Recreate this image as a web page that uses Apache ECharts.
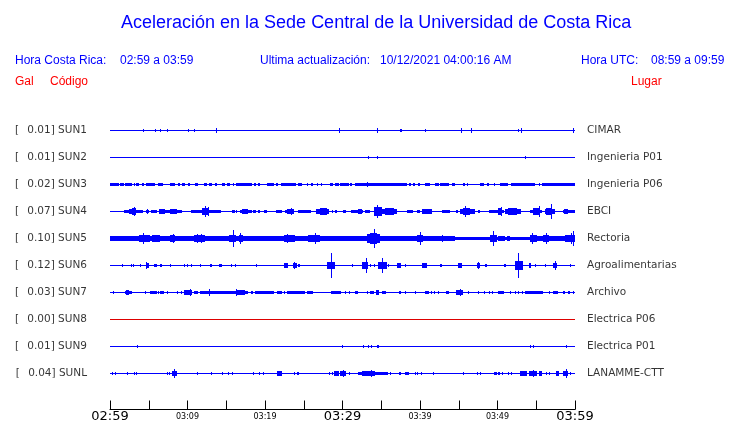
<!DOCTYPE html>
<html><head><meta charset="utf-8">
<script src="https://cdn.jsdelivr.net/npm/echarts@6/dist/echarts.min.js"></script>
<style>html,body{margin:0;padding:0;background:#fff}#c{width:740px;height:423px}</style>
</head><body><div id="c"></div>
<script>
// ---- data ----
const mainTitle = 'Aceleración en la Sede Central de la Universidad de Costa Rica';
const crLabel = 'Hora Costa Rica:', crRange = '02:59 a 03:59';
const updLabel = 'Ultima actualización:', updValue = '10/12/2021 04:00:16 AM';
const utcLabel = 'Hora UTC:', utcRange = '08:59 a 09:59';
const colHeads = ['Gal', 'Código', 'Lugar'];

const stations = ['SUN1','SUN2','SUN3','SUN4','SUN5','SUN6','SUN7','SUN8','SUN9','SUNL'];
const places = ['CIMAR','Ingenieria P01','Ingenieria P06','EBCI','Rectoria','Agroalimentarias','Archivo','Electrica P06','Electrica P01','LANAMME-CTT'];
const peaks = ['0.01','0.01','0.02','0.07','0.10','0.12','0.03','0.00','0.01','0.04'];
const lineColors = ['#0000ff','#0000ff','#0000ff','#0000ff','#0000ff','#0000ff','#0000ff','#dd0000','#0000ff','#0000ff'];
const tickLabels = ['02:59','03:09','03:19','03:29','03:39','03:49','03:59']; // every 10 min
// bursts: [start minute, end minute, half amplitude (gal)]
const sun1 = [[4.2,4.2,0.012],[5.8,5.8,0.012],[6.4,6.4,0.012],[7.4,7.4,0.012],[10.0,10.0,0.012],[10.9,10.9,0.012],[13.7,13.7,0.014],[29.5,29.5,0.014],[34.5,34.5,0.014],[37.4,37.4,0.012],[37.6,37.6,0.012],[40.7,40.7,0.012],[45.3,45.3,0.014],[46.6,46.6,0.014],[52.7,52.7,0.012],[53.0,53.0,0.014],[59.8,59.8,0.014]];
const sun2 = [[33.3,33.3,0.012],[34.5,34.5,0.012],[53.6,53.6,0.012]];
const sun3 = [[0.0,1.1,0.013],[1.3,1.8,0.013],[1.9,2.8,0.013],[3.1,3.2,0.013],[3.4,3.8,0.013],[4.1,4.4,0.013],[4.6,5.8,0.013],[6.2,6.9,0.013],[7.7,8.4,0.013],[8.8,9.0,0.013],[9.3,9.7,0.013],[10.1,10.3,0.013],[11.0,11.3,0.013],[12.1,12.5,0.013],[12.8,13.1,0.013],[13.5,13.8,0.013],[14.4,14.8,0.013],[15.1,15.5,0.013],[15.9,16.0,0.013],[16.3,18.3,0.013],[18.6,18.8,0.013],[19.1,19.4,0.013],[20.2,21.1,0.013],[21.4,21.7,0.013],[22.1,24.0,0.013],[24.2,24.8,0.013],[25.4,25.6,0.013],[25.9,26.2,0.013],[26.7,26.9,0.013],[27.2,27.4,0.013],[28.4,28.8,0.013],[29.0,29.5,0.013],[29.7,30.8,0.013],[31.0,31.2,0.013],[31.6,38.3,0.013],[33.2,33.2,0.02],[38.6,38.8,0.013],[39.1,39.4,0.013],[39.8,40.0,0.013],[40.6,41.3,0.013],[41.9,42.4,0.013],[42.6,43.7,0.013],[44.1,44.5,0.013],[45.6,45.8,0.013],[46.0,46.2,0.013],[47.7,48.2,0.013],[48.6,48.9,0.013],[49.5,49.7,0.013],[50.3,51.4,0.013],[51.8,54.8,0.013],[55.3,55.4,0.013],[55.8,60.0,0.013]];
const sun4 = [[1.8,2.5,0.012],[2.5,3.4,0.019],[2.8,3.3,0.031],[3.1,3.1,0.04],[3.4,4.2,0.012],[4.6,5.0,0.012],[4.8,4.8,0.019],[5.3,6.0,0.009],[6.3,7.1,0.019],[7.1,9.3,0.012],[7.7,8.6,0.016],[10.5,12.1,0.012],[11.9,12.8,0.025],[12.3,12.3,0.049],[12.6,12.6,0.037],[12.8,14.3,0.012],[15.7,16.1,0.009],[16.2,16.4,0.009],[16.8,18.3,0.012],[17.0,17.8,0.019],[18.5,18.8,0.006],[19.1,19.4,0.006],[19.9,20.3,0.009],[21.4,22.2,0.012],[22.6,23.7,0.012],[22.9,23.7,0.021],[23.3,23.3,0.031],[24.3,25.9,0.012],[26.6,28.2,0.019],[27.1,28.0,0.028],[28.6,28.8,0.009],[29.0,29.3,0.009],[30.1,30.4,0.009],[31.1,32.7,0.012],[32.0,32.5,0.019],[32.9,33.5,0.009],[34.1,37.0,0.019],[34.1,35.1,0.037],[34.4,34.4,0.056],[35.5,36.6,0.031],[38.3,39.1,0.009],[39.6,40.0,0.009],[40.2,41.5,0.016],[40.6,41.2,0.021],[42.9,43.9,0.012],[44.7,44.9,0.006],[45.2,47.1,0.016],[45.5,46.5,0.031],[45.8,45.8,0.049],[47.5,47.7,0.006],[48.9,50.8,0.012],[50.1,50.5,0.025],[50.4,50.4,0.037],[51.0,53.0,0.016],[51.4,52.5,0.025],[54.2,55.7,0.012],[54.6,55.5,0.028],[55.3,55.3,0.044],[56.1,57.4,0.016],[56.3,57.0,0.031],[56.9,56.9,0.068],[58.4,60.0,0.012],[58.6,59.1,0.021]];
const sun5 = [[0,44.5,0.016],[44.5,55.1,0.012],[55.1,60,0.016],[3.7,5.2,0.031],[4.3,4.3,0.044],[5.4,6.5,0.025],[7.7,8.4,0.025],[8.1,8.1,0.037],[9.0,9.9,0.019],[10.8,12.3,0.025],[11.2,11.2,0.037],[11.8,11.8,0.037],[13.1,13.8,0.019],[15.3,16.3,0.031],[15.9,15.9,0.074],[16.6,17.1,0.031],[16.8,16.8,0.044],[17.4,17.9,0.021],[20.4,20.4,0.019],[21.1,21.7,0.019],[22.5,23.9,0.025],[22.8,22.8,0.037],[24.9,25.2,0.019],[25.6,27.1,0.025],[26.5,26.5,0.044],[27.3,28.2,0.016],[31.2,32.0,0.016],[32.3,32.9,0.019],[33.1,34.8,0.037],[33.5,34.4,0.049],[34.0,34.0,0.08],[35.1,35.9,0.016],[36.1,37.0,0.021],[38.3,38.9,0.021],[39.6,40.4,0.025],[40.0,40.0,0.056],[40.9,41.5,0.019],[42.6,43.2,0.021],[42.8,42.8,0.031],[49.0,49.9,0.031],[49.4,49.4,0.068],[50.1,51.0,0.016],[51.2,51.6,0.019],[54.2,55.1,0.031],[54.5,54.5,0.044],[55.9,56.6,0.025],[56.2,56.2,0.049],[57.2,58.3,0.021],[58.7,60.0,0.031],[59.5,59.5,0.044],[59.8,59.8,0.062]];
const sun6 = [[1.5,1.5,0.009],[2.7,2.7,0.009],[3.0,3.0,0.006],[3.9,3.9,0.009],[4.6,5.0,0.019],[4.7,4.7,0.025],[5.7,6.0,0.012],[6.5,6.7,0.012],[7.7,7.7,0.006],[9.6,9.6,0.006],[9.9,9.9,0.009],[10.5,10.5,0.009],[11.6,11.8,0.012],[12.9,13.1,0.012],[14.0,14.4,0.012],[15.6,15.8,0.012],[16.1,16.1,0.009],[18.9,18.9,0.009],[22.5,23.0,0.015],[23.6,24.1,0.021],[23.8,23.8,0.028],[24.2,24.5,0.012],[28.0,29.0,0.031],[28.5,28.5,0.11],[31.2,31.2,0.006],[32.5,33.3,0.031],[33.0,33.0,0.062],[33.5,33.5,0.012],[34.0,34.0,0.009],[34.6,35.7,0.031],[35.1,35.1,0.068],[35.9,35.9,0.012],[37.0,37.5,0.015],[38.1,38.1,0.009],[40.2,40.9,0.015],[42.6,42.8,0.012],[44.9,45.4,0.015],[47.3,47.7,0.015],[47.5,47.5,0.031],[48.4,48.6,0.012],[50.8,51.1,0.012],[52.2,53.3,0.037],[52.7,52.7,0.11],[54.0,54.3,0.015],[54.8,54.8,0.009],[56.1,56.1,0.006],[57.1,57.7,0.019],[57.4,57.4,0.037],[59.4,59.4,0.006]];
const sun7 = [[0.4,0.4,0.006],[1.9,2.8,0.012],[2.0,2.4,0.019],[4.5,4.5,0.009],[5.2,6.0,0.012],[6.2,6.2,0.009],[6.5,7.0,0.012],[7.3,7.3,0.009],[8.7,8.7,0.006],[9.2,9.2,0.009],[9.5,10.6,0.015],[10.3,10.3,0.025],[10.9,11.4,0.009],[11.6,17.8,0.012],[12.8,12.8,0.025],[16.3,16.3,0.031],[16.3,17.4,0.015],[18.2,18.5,0.009],[18.7,21.2,0.012],[21.5,22.2,0.012],[22.5,22.5,0.009],[22.8,25.2,0.012],[25.4,26.2,0.012],[28.5,29.8,0.012],[30.3,30.3,0.009],[30.9,30.9,0.009],[31.6,32.0,0.006],[33.1,33.1,0.009],[33.5,34.1,0.012],[34.3,34.7,0.015],[35.1,35.6,0.012],[37.3,37.6,0.012],[38.1,38.1,0.006],[39.4,39.4,0.006],[40.7,41.1,0.006],[41.4,41.4,0.009],[41.8,41.8,0.009],[42.3,42.3,0.006],[43.4,43.7,0.012],[44.7,45.5,0.019],[45.1,45.1,0.031],[46.2,46.2,0.009],[47.5,47.5,0.006],[48.3,48.3,0.006],[48.9,48.9,0.009],[49.3,49.3,0.009],[50.1,50.8,0.012],[51.6,51.6,0.009],[52.3,52.3,0.006],[52.7,52.7,0.012],[53.1,53.1,0.009],[53.5,55.9,0.012],[56.6,56.8,0.009],[57.2,57.8,0.012],[58.5,58.7,0.012],[59.1,59.4,0.009],[59.8,59.8,0.009]];
const sun8 = [];
const sun9 = [[3.5,3.5,0.006],[29.9,29.9,0.012],[32.7,32.7,0.009],[33.3,33.3,0.006],[33.7,33.7,0.012],[34.5,34.5,0.009],[34.6,34.6,0.009],[54.2,54.2,0.006],[54.6,54.6,0.006],[58.9,58.9,0.012]];
const sunL = [[0.2,0.2,0.009],[0.7,0.7,0.006],[2.2,2.2,0.006],[3.1,3.1,0.009],[3.4,3.4,0.009],[7.3,7.3,0.009],[7.6,7.6,0.006],[8.0,8.7,0.015],[8.3,8.3,0.04],[11.2,11.2,0.006],[13.0,13.0,0.009],[14.5,14.5,0.006],[15.2,15.2,0.009],[15.8,15.8,0.006],[18.5,18.5,0.006],[19.2,19.2,0.009],[19.8,19.8,0.009],[21.6,22.2,0.015],[23.8,23.8,0.009],[24.1,24.4,0.012],[28.2,28.2,0.006],[28.7,28.7,0.009],[28.9,29.5,0.015],[29.7,30.5,0.019],[30.1,30.1,0.031],[30.8,30.8,0.012],[32.0,35.9,0.012],[32.5,34.2,0.015],[33.7,33.7,0.025],[36.1,36.1,0.006],[37.3,37.6,0.012],[38.1,38.6,0.012],[39.3,39.3,0.009],[39.6,39.8,0.012],[40.1,40.1,0.009],[41.7,41.7,0.009],[45.5,45.5,0.006],[47.4,47.4,0.009],[47.8,47.8,0.006],[49.6,49.9,0.012],[50.1,50.3,0.012],[50.6,50.6,0.009],[51.4,51.4,0.009],[51.8,51.8,0.009],[52.9,53.8,0.015],[54.0,55.1,0.019],[54.6,54.6,0.031],[55.3,55.8,0.015],[56.3,56.3,0.006],[56.7,56.7,0.009],[57.5,57.9,0.015],[58.5,59.1,0.019],[58.8,58.8,0.037],[59.4,59.4,0.009]];
const bursts = [sun1, sun2, sun3, sun4, sun5, sun6, sun7, sun8, sun9, sunL];

// ---- layout helpers ----
const ROW_GAP = 0.25;           // gal between traces
const rowY = i => 1/3 + (stations.length - 1 - i) * ROW_GAP;

const hdr = {fontFamily:'Liberation Sans', fontSize:12, fontWeight:'normal', color:'#0000ff'};
const red = {fontFamily:'Liberation Sans', fontSize:12, fontWeight:'normal', color:'#ff0000'};
const lbl = {fontFamily:'DejaVu Sans', fontSize:10.5, color:'#000'};

const series = [];
stations.forEach((s, i) => {
  const y = rowY(i);
  series.push({
    type:'line', data:[[0,y],[60,y]], symbol:'none', silent:true,
    lineStyle:{width:1, color:lineColors[i]}, z:2
  });
  series.push({
    type:'custom', data:bursts[i], silent:true, clip:false, z:3,
    renderItem(params, api){
      const t0 = api.value(0), t1 = api.value(1), a = api.value(2);
      const c = api.coord([t0, y]);
      const c1 = api.coord([t1, y]);
      const h = api.size([0, a])[1];
      let x0 = Math.round(c[0]), x1 = Math.round(c1[0]);
      if (x1 <= x0) x1 = x0 + 1;
      const yt = Math.round(c[1] - h - 0.5), yb = Math.round(c[1] + h + 0.5);
      return {type:'rect', shape:{x:x0, y:yt, width:x1-x0, height:Math.max(1, yb-yt)}, style:{fill:lineColors[i]}};
    }
  });
});
series.push({
  type:'scatter', symbolSize:0, silent:true,
  data: stations.map((s,i)=>[0,rowY(i)]),
  label:{show:true, position:'left', distance:23,
    formatter: p => '{a|[}{b|' + peaks[p.dataIndex] + '] ' + stations[p.dataIndex] + '}',
    rich:{a:Object.assign({padding:[0, 8.2, 0, 0]}, lbl), b:lbl}}
});
series.push({
  type:'scatter', symbolSize:0, silent:true,
  data: stations.map((s,i)=>[60,rowY(i)]),
  label:Object.assign({show:true, position:'right', distance:12,
    formatter: p => places[p.dataIndex]}, lbl)
});

const chart = echarts.init(document.getElementById('c'), null, {renderer:'canvas'});
chart.setOption({
  animation:false,
  backgroundColor:'#fff',
  title:[
    {text:mainTitle, left:121, top:14, padding:0, textStyle:{fontFamily:'Liberation Sans', fontSize:18, fontWeight:'normal', color:'#0000ff'}},
    {text:crLabel, left:15, top:55, padding:0, textStyle:hdr},
    {text:crRange, left:120, top:55, padding:0, textStyle:hdr},
    {text:updLabel, left:260, top:55, padding:0, textStyle:hdr},
    {text:updValue, left:380, top:55, padding:0, textStyle:hdr},
    {text:utcLabel, left:581, top:55, padding:0, textStyle:hdr},
    {text:utcRange, left:651, top:55, padding:0, textStyle:hdr},
    {text:colHeads[0], left:15, top:76, padding:0, textStyle:red},
    {text:colHeads[1], left:50, top:76, padding:0, textStyle:red},
    {text:colHeads[2], left:631, top:76, padding:0, textStyle:red}
  ],
  grid:{left:110, right:165, top:103.5, bottom:13.5, outerBoundsMode:'none'},
  xAxis:{
    type:'value', min:0, max:60, interval:5,
    axisLine:{lineStyle:{color:'#000', width:1}},
    axisTick:{inside:true, length:9, lineStyle:{color:'#000'}},
    splitLine:{show:false},
    axisLabel:{margin:1, showMinLabel:true, showMaxLabel:true,
      formatter: v => {
        if (v % 10 !== 0) return '';
        const k = v / 10;
        return (k % 3 === 0 ? '{b|' : '{s|') + tickLabels[k] + '}';
      },
      rich:{
        b:{fontFamily:'DejaVu Sans', fontSize:13, lineHeight:13, color:'#000'},
        s:{fontFamily:'DejaVu Sans', fontSize:8, lineHeight:13, color:'#000'}
      }
    }
  },
  yAxis:{type:'value', min:0, max:2.8333333, show:false},
  series
});
</script></body></html>
